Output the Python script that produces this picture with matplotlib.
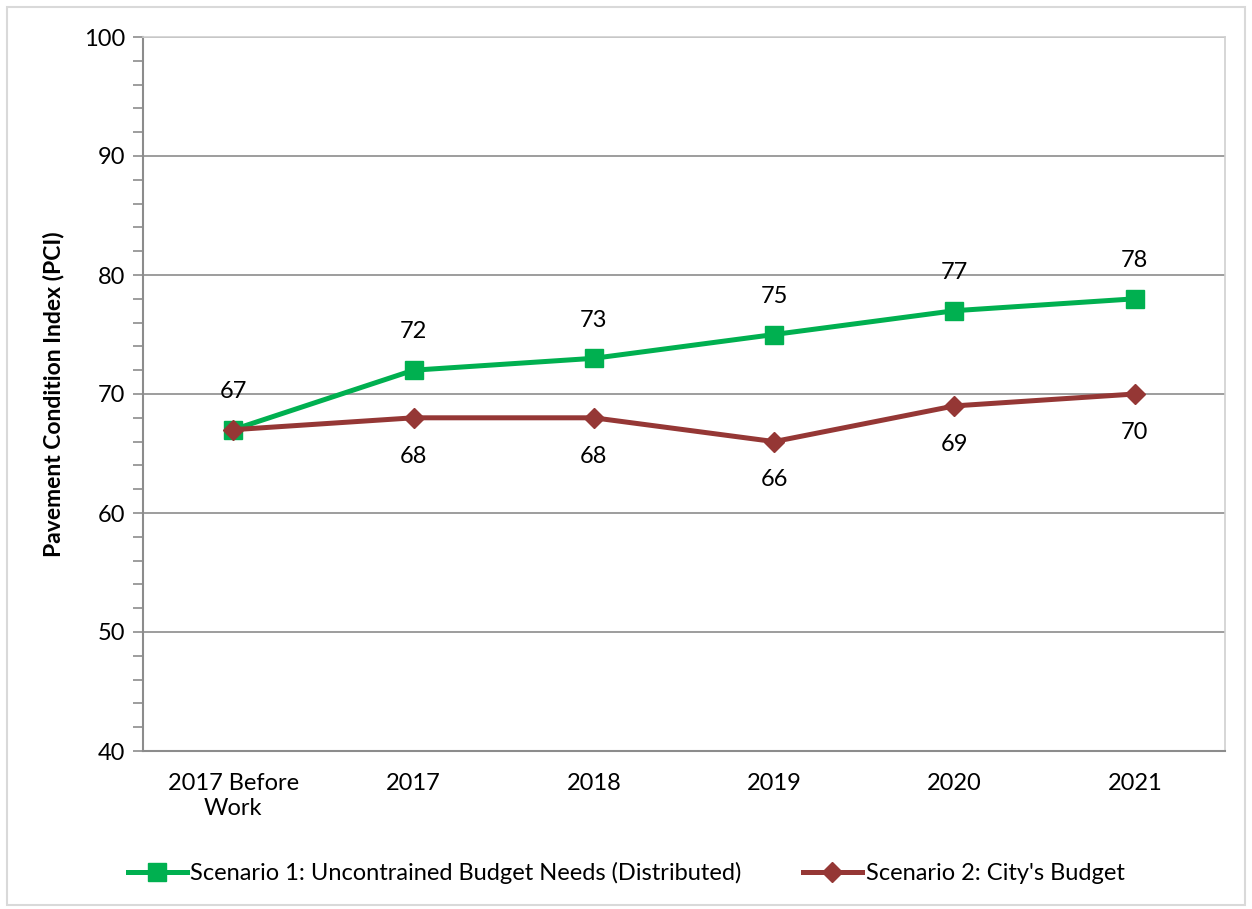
import matplotlib.pyplot as plt
from matplotlib.patches import Rectangle
from matplotlib.ticker import MultipleLocator

plt.rcParams['font.family'] = ['Lato', 'DejaVu Sans']

# Dados
categorias = ["2017 Before\nWork", "2017", "2018", "2019", "2020", "2021"]
cenario1 = [67, 72, 73, 75, 77, 78]
cenario2 = [67, 68, 68, 66, 69, 70]
nome1 = "Scenario 1: Uncontrained Budget Needs (Distributed)"
nome2 = "Scenario 2: City's Budget"

verde = "#00B050"
vermelho = "#953735"

fig = plt.figure(figsize=(12.52, 9.09), dpi=100)
ax = fig.add_axes([143 / 1252, 1 - 751 / 909, (1225 - 143) / 1252, (751 - 37) / 909])

x = list(range(len(categorias)))
ax.plot(x, cenario1, color=verde, lw=3.6, marker="s", ms=13, label=nome1, zorder=3)
ax.plot(x, cenario2, color=vermelho, lw=3.6, marker="D", ms=10, label=nome2, zorder=4)

# Rótulos dos valores (o primeiro do cenário 2 fica escondido sob o do cenário 1)
for xi, v in zip(x, cenario1):
    ax.annotate(str(v), (xi, v), xytext=(0, 20), textcoords="offset points",
                ha="center", va="bottom", fontsize=17)
for xi, v in zip(x[1:], cenario2[1:]):
    ax.annotate(str(v), (xi, v), xytext=(0, -20), textcoords="offset points",
                ha="center", va="top", fontsize=17)

# Eixos
ax.set_xlim(-0.5, len(categorias) - 0.5)
ax.set_ylim(40, 100)
ax.yaxis.set_major_locator(MultipleLocator(10))
ax.yaxis.set_minor_locator(MultipleLocator(2))
ax.grid(True, axis="y", which="major", color="#8c8c8c", lw=1.2)
ax.set_axisbelow(True)
ax.set_xticks(x)
ax.set_xticklabels(categorias, fontsize=17, linespacing=1.25)
ax.tick_params(axis="x", length=0, pad=16)
ax.tick_params(axis="y", which="major", length=7, width=1.2, color="#8c8c8c", labelsize=17, pad=6)
ax.tick_params(axis="y", which="minor", length=7, width=1.2, color="#8c8c8c")
ax.set_ylabel("Pavement Condition Index (PCI)", fontsize=16.5, fontweight="bold", labelpad=14)

for lado in ["left", "bottom"]:
    ax.spines[lado].set_color("#8c8c8c")
    ax.spines[lado].set_linewidth(1.5)
for lado in ["top", "right"]:
    ax.spines[lado].set_color("#d0d0d0")
    ax.spines[lado].set_linewidth(1.2)

# Legenda
fig.legend(loc="center", bbox_to_anchor=(0.5, 1 - 873 / 909), ncol=2, frameon=False,
           fontsize=17, handlelength=2.5, handletextpad=0.15, columnspacing=2.6)

# Borda externa
fig.patches.append(Rectangle((7 / 1252, 4 / 909), 1238 / 1252, 898 / 909, transform=fig.transFigure,
                             fill=False, edgecolor="#d9d9d9", lw=1.5))

plt.savefig("out.png", dpi=100)
